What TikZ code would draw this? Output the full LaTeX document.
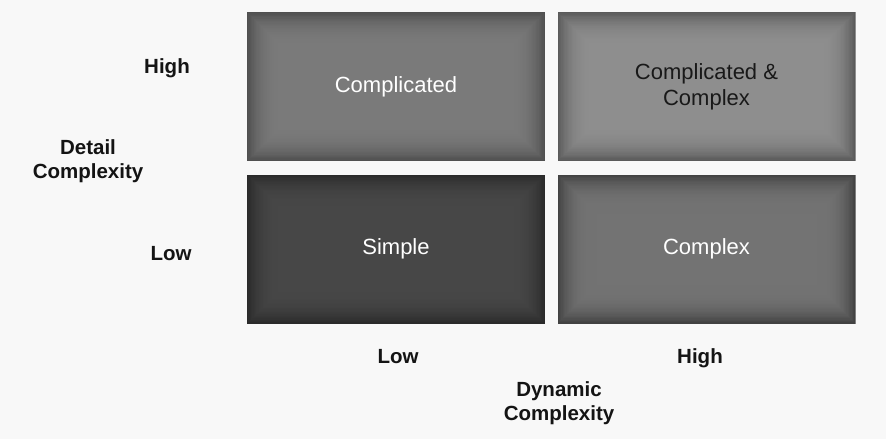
\documentclass[tikz,border=0pt]{standalone}
\usepackage{fontspec}
\setmainfont{Liberation Sans}
\usetikzlibrary{calc}

% tones for the four quadrants: centre and rim
\definecolor{bgpage}{HTML}{F8F8F8}
\definecolor{clMid}{HTML}{7A7A7A}\definecolor{clRim}{HTML}{505050}
\definecolor{ccMid}{HTML}{8E8E8E}\definecolor{ccRim}{HTML}{5A5A5A}
\definecolor{smMid}{HTML}{474747}\definecolor{smRim}{HTML}{2A2A2A}
\definecolor{cxMid}{HTML}{737373}\definecolor{cxRim}{HTML}{424242}

\tikzset{
  quad/.style 2 args={
    minimum width=298pt, minimum height=149pt, inner sep=0pt,
    align=center, text=white,
    font=\fontsize{22}{26}\selectfont,
    path picture={
      % nested rectangles, lighter towards the middle
      \foreach \i in {0,...,30}{
        \pgfmathtruncatemacro\p{100*(1-(1-\i/30)^3)}
        \fill[#1!\p!#2]
          ($(path picture bounding box.south west)+(\i*1.3pt,\i*1.3pt)$)
          rectangle
          ($(path picture bounding box.north east)-(\i*1.3pt,\i*1.3pt)$);
      }
    }
  },
  axislabel/.style={font=\fontsize{20.5}{24}\selectfont\bfseries, text=black!92,
    inner sep=0pt, align=center},
}

\begin{document}
\begin{tikzpicture}[x=1pt,y=-1pt]
  \fill[bgpage] (0,0) rectangle (886,439);
  \useasboundingbox (0,0) rectangle (886,439);

  % the four quadrants
  \node[quad={clMid}{clRim}] (cl) at (396,86.5) {Complicated};
  \node[quad={ccMid}{ccRim}, text=black!90] (cc) at (706.5,86.5) {Complicated \&\\Complex};
  \node[quad={smMid}{smRim}] (sm) at (396,249) {Simple};
  \node[quad={cxMid}{cxRim}] (cx) at (706.5,249) {Complex};

  % vertical axis
  \node[axislabel, anchor=base] (yhi) at (167,73) {High};
  \node[axislabel, anchor=base] (ylo) at (171,260) {Low};
  \node[axislabel] (ytitle) at (88,161) {Detail\\Complexity};

  % horizontal axis
  \node[axislabel, anchor=base] (xlo) at (398,363) {Low};
  \node[axislabel, anchor=base] (xhi) at (700,363) {High};
  \node[axislabel] (xtitle) at (559,403) {Dynamic\\Complexity};
\end{tikzpicture}
\end{document}
